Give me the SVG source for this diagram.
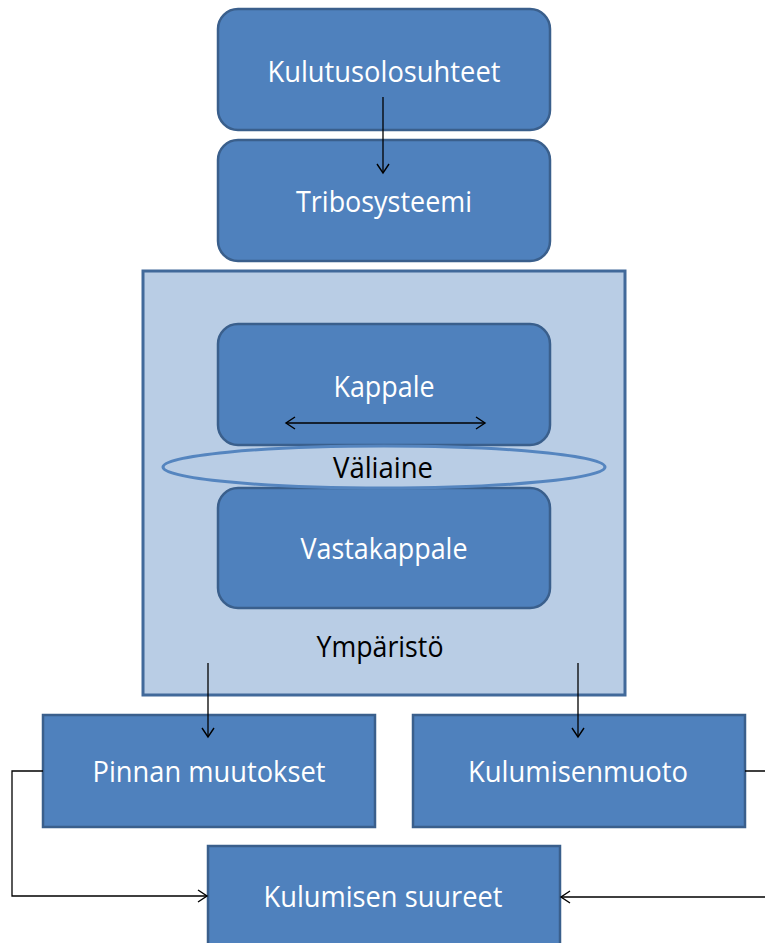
<svg xmlns="http://www.w3.org/2000/svg" width="765" height="943" viewBox="0 0 765 943">
<defs>
<marker id="arr" markerWidth="12" markerHeight="14" refX="10" refY="7" orient="auto" markerUnits="userSpaceOnUse">
<path d="M1,1 L10,7 L1,13" fill="none" stroke="#000" stroke-width="1.4"/>
</marker>
<marker id="arrs" markerWidth="12" markerHeight="14" refX="2" refY="7" orient="auto" markerUnits="userSpaceOnUse">
<path d="M11,1 L2,7 L11,13" fill="none" stroke="#000" stroke-width="1.4"/>
</marker>
</defs>
<style>
.box{fill:#4f81bd;stroke:#3a5f8c;stroke-width:2.5}
.env{fill:#b9cde5;stroke:#41699a;stroke-width:3}
.ell{fill:#b9cde5;stroke:#5585bf;stroke-width:3}
.wt{fill:#fff;font-family:"Open Sans","Liberation Sans",sans-serif;font-size:30px;text-anchor:middle}
.bt{fill:#000;font-family:"Open Sans","Liberation Sans",sans-serif;font-size:30px;text-anchor:middle}
.con{fill:none;stroke:#000;stroke-width:1.3}
</style>
<rect width="765" height="943" fill="#fff"/>
<g id="kulutusolosuhteet">
<rect class="box" x="218" y="9" width="332" height="121" rx="20"/>
<text class="wt" x="384" y="82" textLength="233" lengthAdjust="spacingAndGlyphs">Kulutusolosuhteet</text>
</g>
<g id="tribosysteemi">
<rect class="box" x="218" y="140" width="332" height="121" rx="20"/>
<text class="wt" x="384" y="212" textLength="176" lengthAdjust="spacingAndGlyphs">Tribosysteemi</text>
</g>
<g id="ymparisto">
<rect class="env" x="143" y="271" width="482" height="424"/>
<text class="bt" x="380" y="657" textLength="127" lengthAdjust="spacingAndGlyphs">Ympäristö</text>
</g>
<g id="kappale">
<rect class="box" x="218" y="324" width="332" height="121" rx="20"/>
<text class="wt" x="384" y="397" textLength="101" lengthAdjust="spacingAndGlyphs">Kappale</text>
</g>
<g id="vastakappale">
<rect class="box" x="218" y="488" width="332" height="120" rx="20"/>
<text class="wt" x="384" y="559" textLength="167" lengthAdjust="spacingAndGlyphs">Vastakappale</text>
</g>
<g id="valiaine">
<ellipse class="ell" cx="384" cy="467" rx="221" ry="21"/>
<text class="bt" x="383" y="478" textLength="100" lengthAdjust="spacingAndGlyphs">Väliaine</text>
</g>
<g id="pinnan-muutokset">
<rect class="box" x="43" y="715" width="332" height="112"/>
<text class="wt" x="209" y="782" textLength="233" lengthAdjust="spacingAndGlyphs">Pinnan muutokset</text>
</g>
<g id="kulumisenmuoto">
<rect class="box" x="413" y="715" width="332" height="112"/>
<text class="wt" x="578" y="782" textLength="220" lengthAdjust="spacingAndGlyphs">Kulumisenmuoto</text>
</g>
<g id="kulumisen-suureet">
<rect class="box" x="208" y="846" width="352" height="110"/>
<text class="wt" x="383" y="907" textLength="239" lengthAdjust="spacingAndGlyphs">Kulumisen suureet</text>
</g>
<g id="connectors">
<line class="con" x1="383" y1="97" x2="383" y2="173" marker-end="url(#arr)"/>
<line class="con" x1="286" y1="423" x2="485" y2="423" marker-start="url(#arrs)" marker-end="url(#arr)"/>
<line class="con" x1="208" y1="663" x2="208" y2="737" marker-end="url(#arr)"/>
<line class="con" x1="578" y1="663" x2="578" y2="737" marker-end="url(#arr)"/>
<path class="con" d="M43,771 H12 V896 H207" marker-end="url(#arr)"/>
<path class="con" d="M745,771 H790 V897 H561" marker-end="url(#arr)"/>
</g>
</svg>
